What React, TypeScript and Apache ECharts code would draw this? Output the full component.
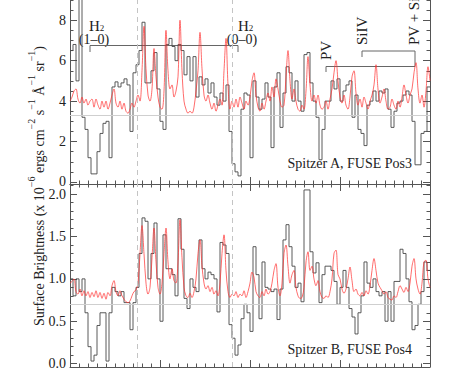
import React, { useEffect, useRef } from 'react';
import * as echarts from 'echarts';

// ---------- data ----------
const X_MIN = 0;
const X_MAX = 40;
const X_MAJOR = 10;
const BIN = 1 / 3; // histogram bin width (x units)
const RED_STEP = 2 / 9; // model sampling step (x units)

// Spitzer A / FUSE Pos3 (top panel), observed histogram
const topBlack = [
  6.5, 6.8, 5.0, 9.5, 3.2, 2.6, 1.2, 0.4, 0.4, 1.5,
  2.4, 2.9, 3.0, 1.2, 4.7, 4.95, 4.7, 4.9, 5.1, 4.8,
  2.5, 5.4, 5.8, 6.5, 7.9, 4.9, 4.9, 5.5, 6.4, 4.6,
  3.0, 2.6, 6.8, 7.1, 6.7, 6.0, 6.8, 6.5, 5.3, 6.2,
  5.0, 6.2, 4.2, 5.2, 4.8, 5.1, 4.4, 4.9, 4.2, 3.8,
  4.4, 4.0, 4.8, 2.5, 0.9, 0.5, 0.3, 3.6, 4.4, 4.3,
  1.2, 5.0, 4.2, 3.6, 4.1, 4.9, 4.2, 1.7, 4.7, 5.4,
  2.7, 4.4, 5.7, 5.4, 4.0, 5.0, 4.0, 3.5, 6.3, 6.4,
  4.9, 4.0, 3.2, 1.1, 2.6, 4.0, 4.0, 5.0, 4.6, 5.1,
  4.0, 4.5, 4.8, 5.0, 3.2, 4.3, 2.6, 2.4, 1.8, 3.8,
  4.0, 4.5, 4.0, 4.5, 4.4, 4.6, 3.6, 2.7, 3.5, 3.9,
  4.0, 4.3, 4.5, 4.3, 3.0, 0.85, 0.85, 2.4, 2.5, 4.7,
];

// top panel model (red)
const topRed = [
  4.0, 4.2, 4.5, 4.6, 4.1, 3.9, 4.2, 3.9, 4.1, 3.8,
  4.0, 4.1, 3.7, 4.1, 3.8, 3.6, 4.0, 3.7, 4.0, 3.6,
  3.9, 4.3, 4.6, 3.9, 3.7, 4.0, 3.6, 3.9, 3.5, 3.4,
  3.6, 3.9, 3.7, 4.0, 4.3, 4.0, 5.5, 7.7, 5.6, 4.3,
  4.0, 4.6, 6.6, 5.2, 4.2, 3.7, 3.6, 4.5, 7.5, 5.5,
  4.6, 4.8, 4.2, 4.5, 5.2, 8.0, 5.5, 4.0, 3.6, 3.4,
  3.5, 3.4, 3.7, 4.5, 5.5, 7.4, 5.6, 4.3, 4.0, 4.3,
  3.9, 3.6, 3.9, 3.5, 3.8, 4.1, 3.8, 5.5, 7.1, 4.8,
  3.6, 4.0, 3.7, 4.1, 3.7, 4.2, 3.9, 3.6, 4.0, 3.8,
  4.2, 5.0, 5.4, 4.3, 3.7, 3.5, 3.9, 3.6, 4.0, 4.4,
  4.0, 4.7, 4.2, 5.1, 4.6, 4.0, 3.7, 3.8, 5.2, 6.5,
  5.0, 4.1, 4.6, 4.0, 3.6, 3.5, 3.8, 3.6, 4.5, 6.2,
  4.8, 4.0, 4.3, 3.9, 4.3, 3.8, 3.6, 3.7, 4.0, 3.6,
  4.1, 4.6, 5.4, 6.0, 5.0, 4.2, 3.9, 4.3, 3.8, 3.6,
  4.2, 5.2, 5.5, 4.4, 3.8, 4.1, 3.7, 4.2, 3.9, 3.6,
  4.0, 4.3, 4.8, 5.8, 4.6, 3.9, 4.2, 4.6, 4.0, 3.6,
  3.7, 4.1, 3.8, 3.6, 4.0, 3.7, 4.2, 4.8, 4.3, 3.9,
  4.3, 4.6, 5.4, 5.9, 4.6, 3.9, 4.3, 3.7, 4.5, 5.7,
  5.0,
];

// Spitzer B / FUSE Pos4 (bottom panel), observed histogram
const botBlack = [
  1.0, 0.8, 1.0, 0.85, 1.0, 0.6, 0.2, 0.03, 0.1, 0.45,
  0.6, 0.6, 0.03, 0.6, 0.9, 0.85, 0.8, 0.85, 0.72, 0.72,
  0.4, 0.72, 0.9, 1.3, 1.72, 1.68, 1.0, 1.3, 1.66, 1.0,
  0.5, 1.52, 1.12, 1.12, 1.05, 0.8, 1.71, 1.35, 0.77, 0.65,
  1.0, 0.9, 0.85, 1.46, 1.12, 1.0, 1.08, 1.05, 1.0, 0.61,
  1.43, 1.4, 1.3, 0.46, 0.3, 0.1, 0.22, 0.53, 0.7, 0.6,
  0.38, 1.38, 1.05, 0.53, 1.2, 0.9, 0.88, 0.85, 0.88, 0.52,
  0.88, 1.46, 1.64, 1.38, 1.15, 0.9, 0.95, 0.73, 2.05, 2.05,
  1.32, 1.07, 1.19, 0.72, 1.05, 1.15, 1.15, 1.1, 0.97, 0.7,
  0.9, 1.1, 0.9, 0.65, 0.55, 0.35, 0.6, 0.8, 1.2, 0.95,
  0.9, 1.0, 0.85, 0.8, 0.85, 0.5, 0.85, 0.5, 0.97, 0.97,
  1.35, 1.3, 1.0, 0.73, 0.4, 0.45, 0.7, 0.85, 1.2, 1.1,
];

// bottom panel model (red)
const botRed = [
  0.95, 0.97, 1.0, 0.85, 0.82, 0.88, 0.8, 0.86, 0.8, 0.85,
  0.78, 0.84, 0.79, 0.86, 0.78, 0.84, 0.77, 0.83, 0.76, 0.84,
  0.8, 0.92, 0.98, 0.85, 0.8, 0.86, 0.8, 0.76, 0.73, 0.72,
  0.74, 0.8, 0.85, 0.87, 0.95, 1.3, 1.63, 1.3, 0.95, 0.82,
  0.9, 1.25, 1.6, 1.2, 0.9, 0.82, 0.95, 1.3, 1.6, 1.2,
  1.0, 1.12, 0.98, 0.95, 1.2, 1.7, 1.25, 0.9, 0.8, 0.78,
  0.83, 0.78, 0.85, 1.0, 1.3, 1.46, 1.15, 0.95, 0.88, 0.92,
  0.85, 0.9, 0.82, 0.86, 0.8, 0.95, 1.3, 1.52, 1.1, 0.85,
  0.78, 0.82, 0.8, 0.85, 0.78, 0.82, 0.8, 0.86, 0.78, 0.85,
  0.95, 1.08, 1.02, 0.85, 0.8, 0.78, 0.85, 0.8, 0.88, 0.82,
  0.85, 0.95, 1.1, 1.18, 0.9, 0.8, 0.95, 1.3, 1.4, 1.15,
  0.95, 1.05, 1.1, 0.9, 0.8, 0.77, 0.78, 0.9, 1.2, 1.32,
  1.1, 1.15, 1.0, 0.92, 0.98, 0.85, 0.78, 0.77, 0.8, 0.78,
  0.85, 1.0, 1.3, 1.34, 1.05, 1.0, 0.88, 0.83, 0.88, 1.0,
  1.14, 0.98, 0.85, 0.88, 0.82, 0.8, 0.84, 0.8, 0.86, 0.82,
  0.92, 1.1, 1.24, 1.1, 0.95, 0.9, 0.86, 0.82, 0.85, 0.78,
  0.76, 0.75, 0.8, 0.78, 0.85, 0.92, 0.88, 0.84, 0.9, 0.85,
  0.95, 1.15, 1.24, 1.0, 0.88, 0.82, 0.95, 1.2, 1.22, 1.0,
  0.9,
];

const topMajor = [0, 2, 4, 6, 8];
const topMinor = [0, 0.5, 1, 1.5, 2, 2.5, 3, 3.5, 4, 4.5, 5, 5.5, 6, 6.5, 7, 7.5, 8, 8.5, 9];
const botMajor = [0, 0.5, 1, 1.5, 2];
const botMinor = [0, 0.1, 0.2, 0.3, 0.4, 0.5, 0.6, 0.7, 0.8, 0.9, 1, 1.1, 1.2, 1.3, 1.4, 1.5, 1.6, 1.7, 1.8, 1.9, 2, 2.1];
const TOP_RANGE = [-0.1, 9.0];
const BOT_RANGE = [-0.04, 2.12];
const topRef = 3.3;
const botRef = 0.7;
const dashedX = [7.44, 18.0];

// ---------- styles ----------
const FONT = '"Liberation Serif", "Times New Roman", Times, serif';
const AXIS_COLOR = '#555';
const BLACK = '#474747';
const RED = 'rgba(255,50,50,0.8)';

const histPoints = (vals: number[]) => {
  const pts = vals.map((v, i) => [X_MIN + i * BIN, v]);
  pts.push([X_MIN + vals.length * BIN, vals[vals.length - 1]]);
  return pts;
};
const modelPoints = (vals: number[]) => vals.map((v, j) => [X_MIN + j * RED_STEP, v]);

const xAxisCfg = (gridIndex: number, position: string) => ({
  type: 'value', gridIndex, position, min: X_MIN, max: X_MAX, interval: X_MAJOR,
  axisLine: { show: true, onZero: false, lineStyle: { color: AXIS_COLOR, width: 1 } },
  axisTick: { show: true, inside: true, length: 7, lineStyle: { color: AXIS_COLOR } },
  minorTick: { show: true, splitNumber: 10, length: 3.5, lineStyle: { color: AXIS_COLOR } },
  axisLabel: { show: false },
  splitLine: { show: false },
  minorSplitLine: { show: false },
});

const yMajorCfg = (gridIndex: number, position: string, range: number[], ticks: number[], labels: boolean, digits: number) => ({
  type: 'value', gridIndex, position, min: range[0], max: range[1],
  axisLine: { show: true, onZero: false, lineStyle: { color: AXIS_COLOR, width: 1 } },
  axisTick: { show: true, inside: true, length: 7, customValues: ticks, lineStyle: { color: AXIS_COLOR } },
  axisLabel: {
    show: labels, customValues: ticks, margin: 4,
    formatter: (v: number) => v.toFixed(digits),
    fontFamily: FONT, fontSize: 14, color: '#222',
  },
  splitLine: { show: false },
});

const yMinorCfg = (gridIndex: number, position: string, range: number[], ticks: number[]) => ({
  type: 'value', gridIndex, position, min: range[0], max: range[1],
  axisLine: { show: false, onZero: false },
  axisTick: { show: true, inside: true, length: 3.5, customValues: ticks, lineStyle: { color: AXIS_COLOR } },
  axisLabel: { show: false },
  splitLine: { show: false },
});

const refMarks = (refY: number) => ({
  silent: true,
  symbol: ['none', 'none'],
  label: { show: false },
  animation: false,
  data: [
    { yAxis: refY, lineStyle: { color: '#cfcfcf', type: 'solid', width: 1 } },
    ...dashedX.map((x) => ({ xAxis: x, lineStyle: { color: '#c4c4c4', type: [5, 4], width: 1 } })),
  ],
});

const txt = (text: string, x: number, y: number, align: string, size = 15, rotation = 0, extra: any = {}) => ({
  type: 'text', x, y, rotation, silent: true,
  style: {
    text, fontFamily: FONT, fontSize: size, fill: '#222',
    align, textAlign: align, verticalAlign: 'middle', textVerticalAlign: 'middle',
    ...extra,
  },
});

const bracket = (points: number[][]) => ({
  type: 'polyline', silent: true,
  shape: { points },
  style: { stroke: '#666', lineWidth: 1, fill: 'none' },
});

const h2Rich = {
  n: { fontFamily: FONT, fontSize: 15, lineHeight: 14, verticalAlign: 'top', fill: '#222' },
  b: { fontFamily: FONT, fontSize: 9, lineHeight: 8, verticalAlign: 'bottom', fill: '#222' },
};

const titleRich = {
  n: { fontFamily: FONT, fontSize: 14, lineHeight: 20, verticalAlign: 'bottom', fill: '#222' },
  s: { fontFamily: FONT, fontSize: 10, lineHeight: 11, verticalAlign: 'top', fill: '#222' },
};

const h2Label = (x: number, y: number) => ({
  type: 'text', x, y, silent: true,
  style: { text: '{n|H}{b|2}', rich: h2Rich, align: 'left', textAlign: 'left', verticalAlign: 'middle', textVerticalAlign: 'middle' },
});

const option: any = {
  animation: false,
  backgroundColor: '#fff',
  grid: [
    { left: 70, right: 20, top: 0, height: 184, outerBoundsMode: 'none' },
    { left: 70, right: 20, top: 184, height: 183, outerBoundsMode: 'none' },
  ],
  xAxis: [
    xAxisCfg(0, 'bottom'),
    xAxisCfg(1, 'top'),
    xAxisCfg(1, 'bottom'),
  ],
  yAxis: [
    yMajorCfg(0, 'left', TOP_RANGE, topMajor, true, 0),
    yMinorCfg(0, 'left', TOP_RANGE, topMinor),
    yMajorCfg(0, 'right', TOP_RANGE, topMajor, false, 0),
    yMinorCfg(0, 'right', TOP_RANGE, topMinor),
    yMajorCfg(1, 'left', BOT_RANGE, botMajor, true, 1),
    yMinorCfg(1, 'left', BOT_RANGE, botMinor),
    yMajorCfg(1, 'right', BOT_RANGE, botMajor, false, 1),
    yMinorCfg(1, 'right', BOT_RANGE, botMinor),
  ],
  series: [
    {
      type: 'line', xAxisIndex: 0, yAxisIndex: 0, data: histPoints(topBlack), step: 'end',
      symbol: 'none', clip: true, z: 3, lineStyle: { color: BLACK, width: 0.9 },
      markLine: refMarks(topRef),
    },
    {
      type: 'line', xAxisIndex: 0, yAxisIndex: 0, data: modelPoints(topRed), smooth: 0.35,
      symbol: 'none', clip: true, z: 4, lineStyle: { color: RED, width: 0.9 },
    },
    {
      type: 'line', xAxisIndex: 2, yAxisIndex: 4, data: histPoints(botBlack), step: 'end',
      symbol: 'none', clip: true, z: 3, lineStyle: { color: BLACK, width: 0.9 },
      markLine: refMarks(botRef),
    },
    {
      type: 'line', xAxisIndex: 2, yAxisIndex: 4, data: modelPoints(botRed), smooth: 0.35,
      symbol: 'none', clip: true, z: 4, lineStyle: { color: RED, width: 0.9 },
    },
  ],
  graphic: [
    {
      type: 'text', x: 36, y: 186, rotation: Math.PI / 2, silent: true,
      style: {
        text: '{n|Surface Brightness (x 10}{s|−6}{n| ergs cm}{s|−2}{n| s}{s|−1}{n| Å}{s|−1}{n| sr}{s|−1}{n|)}',
        rich: titleRich, align: 'center', textAlign: 'center', verticalAlign: 'middle', textVerticalAlign: 'middle',
      },
    },
    // H2 (1-0) and H2 (0-0)
    h2Label(89, 25),
    txt('(1–0)', 94, 39.5, 'center', 14),
    h2Label(238, 25),
    txt('(0–0)', 242, 39.5, 'center', 14),
    bracket([[90, 52], [90, 45.5], [238, 45.5], [238, 52]]),
    // PV, SiIV, PV + SiIV
    txt('PV', 326, 60, 'left', 15, Math.PI / 2),
    bracket([[326, 72], [326, 66.5], [415, 66.5]]),
    txt('SiIV', 362, 45, 'left', 15, Math.PI / 2),
    bracket([[362, 57], [362, 51], [415, 51], [415, 66.5]]),
    txt('PV + SiIV', 414, 45, 'left', 15, Math.PI / 2),
    // panel labels
    txt('Spitzer A, FUSE Pos3', 412, 163, 'right', 14),
    txt('Spitzer B, FUSE Pos4', 412, 349, 'right', 14),
  ],
};

export default function App() {
  const ref = useRef<HTMLDivElement>(null);
  useEffect(() => {
    if (!ref.current) return;
    const chart = echarts.init(ref.current, null, { renderer: 'svg' });
    chart.setOption(option);
    return () => chart.dispose();
  }, []);
  return <div ref={ref} style={{ position: 'absolute', left: 0, top: 0, width: 450, height: 370 }} />;
}
